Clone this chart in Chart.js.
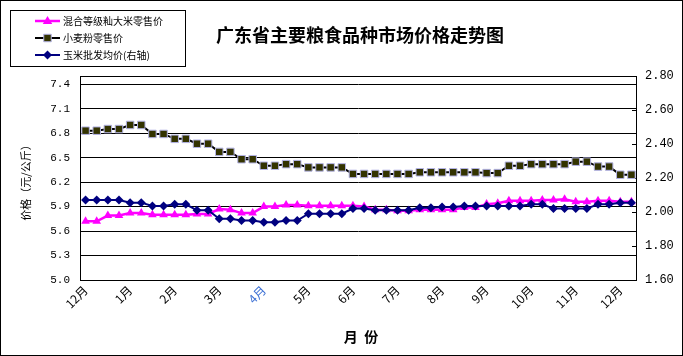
<!DOCTYPE html>
<html><head><meta charset="utf-8">
<script src="https://cdn.jsdelivr.net/npm/chart.js@4.4.1/dist/chart.umd.min.js"></script>
<style>html,body{margin:0;padding:0;background:#fff}#wrap{width:683px;height:356px;position:relative}canvas{display:block}</style>
</head><body><div id="wrap"><canvas id="c" width="683" height="356"></canvas></div>
<script>
const categories = [
 '12月W1','12月W2','12月W3','12月W4','1月W1','1月W2','1月W3','1月W4','2月W1','2月W2','2月W3','2月W4',
 '3月W1','3月W2','3月W3','3月W4','4月W1','4月W2','4月W3','4月W4','5月W1','5月W2','5月W3','5月W4',
 '6月W1','6月W2','6月W3','6月W4','7月W1','7月W2','7月W3','7月W4','8月W1','8月W2','8月W3','8月W4',
 '9月W1','9月W2','9月W3','9月W4','10月W1','10月W2','10月W3','10月W4','11月W1','11月W2','11月W3','11月W4',
 '12月W1b','12月W2b'];
const monthTicks = ['12月','1月','2月','3月','4月','5月','6月','7月','8月','9月','10月','11月','12月'];
const leftTicks = [5.0,5.3,5.6,5.9,6.2,6.5,6.8,7.1,7.4];
const rightTicks = [1.6,1.8,2.0,2.2,2.4,2.6,2.8];
const riceRetail = [5.72,5.72,5.79,5.79,5.82,5.82,5.80,5.80,5.80,5.80,5.81,5.81,5.87,5.86,5.82,5.82,5.90,5.90,5.92,5.92,
 5.91,5.91,5.91,5.91,5.91,5.90,5.86,5.86,5.85,5.85,5.86,5.86,5.86,5.86,5.89,5.89,5.93,5.94,5.97,5.97,
 5.97,5.98,5.98,5.99,5.96,5.96,5.97,5.97,5.96,5.96];
const flourRetail = [6.83,6.83,6.85,6.85,6.90,6.90,6.79,6.79,6.73,6.73,6.67,6.67,6.57,6.57,6.48,6.48,6.40,6.40,6.42,6.42,
 6.38,6.38,6.38,6.38,6.30,6.30,6.30,6.30,6.30,6.30,6.32,6.32,6.32,6.32,6.32,6.32,6.31,6.31,6.40,6.40,
 6.42,6.42,6.42,6.42,6.45,6.45,6.39,6.39,6.29,6.29];
const cornWholesale = [2.07,2.07,2.07,2.07,2.055,2.055,2.035,2.035,2.045,2.045,2.01,2.01,1.96,1.96,1.95,1.95,1.94,1.94,1.95,1.95,
 1.99,1.99,1.99,1.99,2.02,2.02,2.01,2.01,2.01,2.01,2.025,2.025,2.03,2.03,2.035,2.035,2.035,2.035,2.035,2.035,
 2.045,2.045,2.02,2.02,2.02,2.02,2.045,2.045,2.055,2.055];

const CJK = '"Noto Sans CJK SC", "Noto Sans", sans-serif';
const NUM = '"Liberation Mono", "DejaVu Sans Mono", monospace';

function drawMarker(ctx, style, x, y, r, fill, stroke, bw) {
  ctx.save();
  ctx.beginPath();
  if (style === 'triangle') {
    ctx.moveTo(x, y - r);
    ctx.lineTo(x + r * 0.95, y + r * 0.6);
    ctx.lineTo(x - r * 0.95, y + r * 0.6);
    ctx.closePath();
  } else if (style === 'rect') {
    const s = r * Math.SQRT1_2;
    ctx.rect(x - s, y - s, 2 * s, 2 * s);
  } else {
    ctx.moveTo(x, y - r); ctx.lineTo(x + r, y); ctx.lineTo(x, y + r); ctx.lineTo(x - r, y); ctx.closePath();
  }
  ctx.fillStyle = fill; ctx.fill();
  if (bw) { ctx.lineWidth = bw; ctx.strokeStyle = stroke; ctx.stroke(); }
  ctx.restore();
}

const decor = {
  id: 'decor',
  beforeDatasetsDraw(chart) {
    const ctx = chart.ctx, a = chart.chartArea;
    ctx.save();
    ctx.strokeStyle = '#000'; ctx.lineWidth = 1;
    ctx.strokeRect(Math.round(a.left) + 0.5, Math.round(a.top) + 0.5, Math.round(a.right - a.left) - 1, Math.round(a.bottom - a.top));
    const yr = chart.scales.y1;
    ctx.beginPath();
    rightTicks.forEach(v => {
      const py = Math.round(yr.getPixelForValue(v)) + 0.5;
      ctx.moveTo(a.right - 5, py); ctx.lineTo(a.right, py);
    });
    ctx.stroke();
    ctx.restore();
  },
  afterDraw(chart) {
    const ctx = chart.ctx, W = chart.width, H = chart.height;
    ctx.save();
    ctx.strokeStyle = '#000'; ctx.lineWidth = 1;
    ctx.strokeRect(0.5, 0.5, W - 1, H - 1);
    ctx.fillStyle = '#000';
    ctx.font = 'bold 18px ' + CJK;
    ctx.textAlign = 'center'; ctx.textBaseline = 'middle';
    ctx.fillText('广东省主要粮食品种市场价格走势图', 360, 35);
    ctx.font = 'bold 14px ' + CJK;
    ctx.fillText('月  份', 361, 337);
    ctx.save();
    ctx.translate(26, 180); ctx.rotate(-Math.PI / 2);
    ctx.font = '11px ' + CJK;
    ctx.fillText('价格（元/公斤）', 0, 0);
    ctx.restore();
    ctx.fillStyle = '#fff';
    ctx.fillRect(10, 10, 175, 56);
    ctx.strokeStyle = '#000';
    ctx.strokeRect(10.5, 10.5, 175, 56);
    const items = [chart.data.datasets[1], chart.data.datasets[2], chart.data.datasets[0]];
    const ys = [21, 38, 55];
    items.forEach((ds, i) => {
      const y = ys[i];
      ctx.beginPath();
      ctx.strokeStyle = ds.borderColor; ctx.lineWidth = ds.borderWidth;
      ctx.moveTo(35, y); ctx.lineTo(60, y); ctx.stroke();
      drawMarker(ctx, ds.pointStyle, 47.5, y, ds.pointRadius, ds.pointBackgroundColor, ds.pointBorderColor, ds.pointBorderWidth);
      ctx.fillStyle = '#000';
      ctx.font = '10px ' + CJK;
      ctx.textAlign = 'left'; ctx.textBaseline = 'middle';
      ctx.fillText(ds.label, 63, y);
    });
    ctx.restore();
  }
};

new Chart(document.getElementById('c'), {
  type: 'line',
  data: {
    labels: categories,
    datasets: [
      { label: '玉米批发均价(右轴)', data: cornWholesale, yAxisID: 'y1', order: 0,
        borderColor: '#000080', borderWidth: 2, pointStyle: 'rectRot', pointRadius: 4.5,
        pointBackgroundColor: '#000080', pointBorderColor: '#000080', pointBorderWidth: 0, tension: 0 },
      { label: '混合等级籼大米零售价', data: riceRetail, yAxisID: 'y', order: 1,
        borderColor: '#FF00FF', borderWidth: 2.5, pointStyle: 'triangle', pointRadius: 5,
        pointBackgroundColor: '#FF00FF', pointBorderColor: '#FF00FF', pointBorderWidth: 0, tension: 0 },
      { label: '小麦粉零售价', data: flourRetail, yAxisID: 'y', order: 2,
        borderColor: '#000000', borderWidth: 2, pointStyle: 'rect', pointRadius: 5.3,
        pointBackgroundColor: '#333300', pointBorderColor: '#b4b4e6', pointBorderWidth: 1, tension: 0 }
    ]
  },
  options: {
    responsive: false, animation: false, devicePixelRatio: 1,
    layout: { padding: { top: 76, left: 0, right: 0, bottom: 0 } },
    plugins: { legend: { display: false }, tooltip: { enabled: false }, title: { display: false } },
    scales: {
      x: {
        type: 'category', offset: true,
        grid: { display: false, drawTicks: false }, border: { display: false },
        ticks: {
          autoSkip: false, maxRotation: 45, minRotation: 45, padding: 3,
          font: { size: 12, family: CJK },
          color: c => (c.index === 16 ? '#3b6fd4' : '#000'),
          callback: (v, i) => (i % 4 === 0 ? monthTicks[i / 4] : '')
        },
        afterFit: s => { s.height = 76; }
      },
      y: {
        position: 'left', min: 5.0, max: 7.5,
        afterBuildTicks: s => { s.ticks = leftTicks.map(v => ({ value: v })); },
        grid: { color: '#000', lineWidth: 1, drawTicks: false }, border: { display: false },
        ticks: { padding: 10, color: '#000', font: { size: 11, family: NUM }, callback: v => Number(v).toFixed(1) },
        afterFit: s => { s.width = 80; }
      },
      y1: {
        position: 'right', min: 1.6, max: 2.8,
        afterBuildTicks: s => { s.ticks = rightTicks.map(v => ({ value: v })); },
        grid: { drawOnChartArea: false, drawTicks: false }, border: { display: false },
        ticks: { padding: 8, color: '#000', font: { size: 12, family: NUM }, callback: v => Number(v).toFixed(2) },
        afterFit: s => { s.width = 46; }
      }
    }
  },
  plugins: [decor]
});
</script></body></html>
